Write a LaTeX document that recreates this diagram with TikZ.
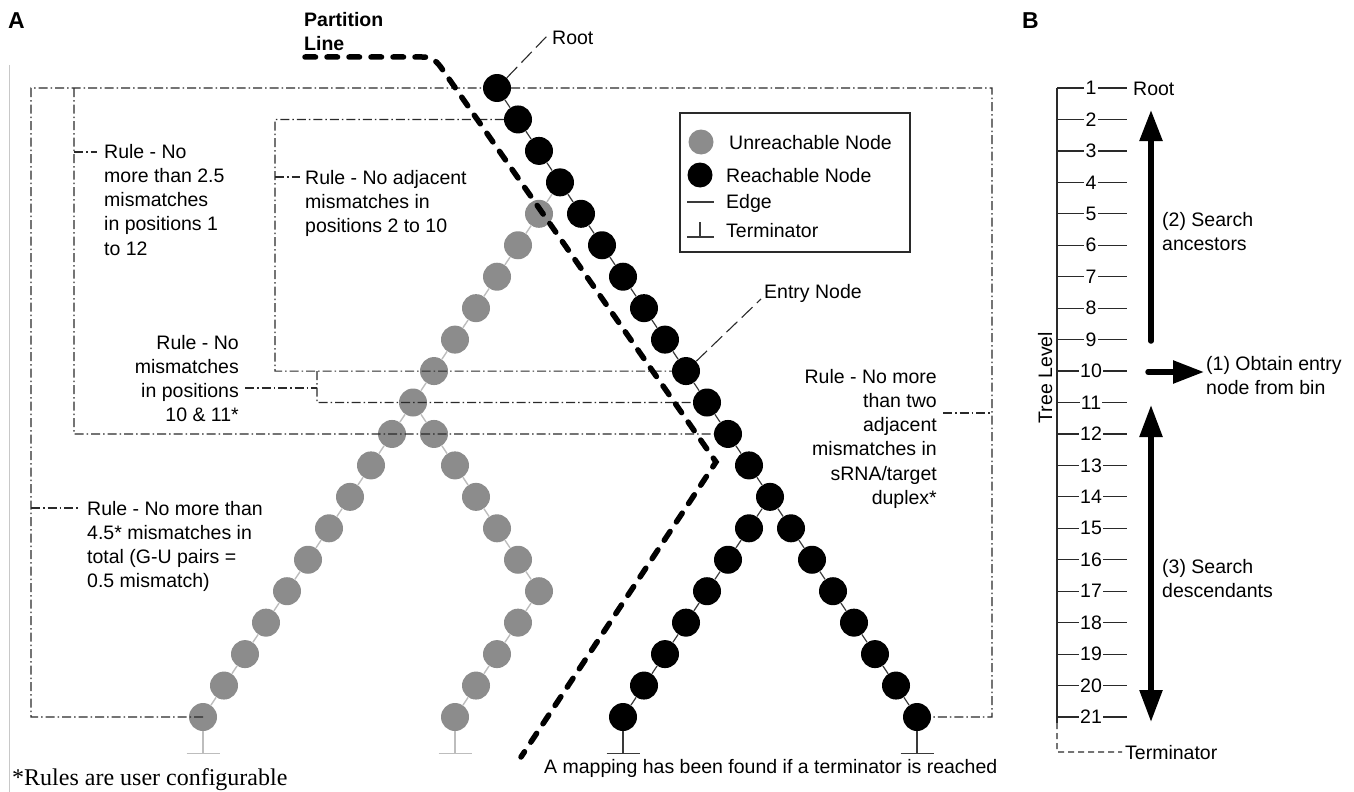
\documentclass[tikz,border=0pt]{standalone}
\usepackage{fontspec}
\setmainfont{Liberation Sans}
\newfontfamily\notefont{Liberation Serif}
\usetikzlibrary{arrows.meta}
\definecolor{graynode}{HTML}{8C8C8C}
\definecolor{grayedge}{HTML}{BDBDBD}
\definecolor{darkedge}{HTML}{3A3A3A}
\definecolor{rulecol}{HTML}{2A2A2A}
\definecolor{framegray}{HTML}{C8C8C8}
\begin{document}
\begin{tikzpicture}[x=1pt,y=-1pt,
  bnode/.style={circle,fill=black,minimum size=28pt,inner sep=0pt},
  gnode/.style={circle,fill=graynode,minimum size=28pt,inner sep=0pt},
  bedge/.style={draw=darkedge,line width=1.2pt},
  gedge/.style={draw=grayedge,line width=1.4pt},
  ruleline/.style={draw=rulecol,line width=1.1pt,dash pattern=on 9pt off 3pt on 1.5pt off 3pt},
  leaderline/.style={draw=rulecol,line width=1.1pt,dash pattern=on 15pt off 6pt},
  partline/.style={draw=black,line width=5.5pt,line cap=round,dash pattern=on 10.5pt off 11.5pt},
  lbl/.style={font=\fontsize{19.5}{24.2}\selectfont,inner sep=0pt,align=left},
  lblr/.style={lbl,align=right},
  boldlbl/.style={font=\fontsize{19.5}{24}\selectfont\bfseries,inner sep=0pt,align=left},
  panellbl/.style={font=\fontsize{23}{27}\selectfont\bfseries,inner sep=0pt,anchor=base west},
  bterm/.style={draw=darkedge,line width=1.4pt},
  gterm/.style={draw=grayedge,line width=1.4pt},
  tickline/.style={draw=rulecol,line width=1.2pt},
  num/.style={font=\fontsize{19.5}{24}\selectfont,fill=white,inner xsep=1.2pt,inner ysep=0pt},
  bigarrow/.style={line width=5.5pt,line cap=round,-{Triangle[length=31pt,width=22pt]}},
]
\useasboundingbox (0,0) rectangle (1354,792);

% thin frame line on the left
\draw[framegray,line width=1pt] (9,65) -- (9,792);

% ---------- gray (unreachable) nodes ----------
\foreach \L in {5,...,11} \node[gnode] (g\L) at ({539-(\L-5)*21},{88+(\L-1)*31.45}) {};
\foreach \L in {12,...,21} \node[gnode] (gl\L) at ({392-(\L-12)*21},{88+(\L-1)*31.45}) {};
\foreach \L in {12,...,17} \node[gnode] (gr\L) at ({434+(\L-12)*21},{88+(\L-1)*31.45}) {};
\foreach \L in {18,...,21} \node[gnode] (gr\L) at ({539-(\L-17)*21},{88+(\L-1)*31.45}) {};

% ---------- black (reachable) nodes ----------
\foreach \L in {1,...,14} \node[bnode] (b\L) at ({497+(\L-1)*21},{88+(\L-1)*31.45}) {};
\foreach \L in {15,...,21} \node[bnode] (bl\L) at ({749-(\L-15)*21},{88+(\L-1)*31.45}) {};
\foreach \L in {15,...,21} \node[bnode] (br\L) at ({791+(\L-15)*21},{88+(\L-1)*31.45}) {};

% ---------- edges ----------
\foreach \L in {1,...,13} {\pgfmathtruncatemacro\N{\L+1}\draw[bedge] (b\L) -- (b\N);}
\draw[bedge] (b14) -- (bl15);
\draw[bedge] (b14) -- (br15);
\foreach \L in {15,...,20} {\pgfmathtruncatemacro\N{\L+1}\draw[bedge] (bl\L) -- (bl\N); \draw[bedge] (br\L) -- (br\N);}
\draw[gedge] (b4) -- (g5);
\foreach \L in {5,...,10} {\pgfmathtruncatemacro\N{\L+1}\draw[gedge] (g\L) -- (g\N);}
\draw[gedge] (g11) -- (gl12);
\draw[gedge] (g11) -- (gr12);
\foreach \L in {12,...,20} {\pgfmathtruncatemacro\N{\L+1}\draw[gedge] (gl\L) -- (gl\N); \draw[gedge] (gr\L) -- (gr\N);}

% ---------- terminators ----------
\draw[gterm] (gl21.south) -- ++(0,22) ++(-16.5,0) -- ++(33,0);
\draw[gterm] (gr21.south) -- ++(0,22) ++(-16.5,0) -- ++(33,0);
\draw[bterm] (bl21.south) -- ++(0,22) ++(-16.5,0) -- ++(33,0);
\draw[bterm] (br21.south) -- ++(0,22) ++(-16.5,0) -- ++(33,0);

% ---------- rule brackets (dash-dot) ----------
\draw[ruleline] (gl21.center) -- (31,717) -- (31,88) -- (b1);
\draw[ruleline] (b1) -- (992,88) -- (992,717) -- (br21);
\draw[ruleline] (74,88) -- (74,433.95) -- (b12);
\draw[ruleline] (b2) -- (275,119.45) -- (275,371.05) -- (b10);
\draw[ruleline] (317,371.05) -- (317,402.5) -- (b11);
\draw[ruleline] (74,152) -- (97,152);
\draw[ruleline] (275,177) -- (300,177);
\draw[ruleline] (245,388) -- (317,388);
\draw[ruleline] (31,508) -- (80,508);
\draw[ruleline] (943,413) -- (992,413);

% ---------- rule texts ----------
\node[lbl,anchor=north west] (r1) at (104,144) {Rule - No\\more than 2.5\\mismatches\\in positions 1\\to 12};
\node[lbl,anchor=north west] (r2) at (305,170) {Rule - No adjacent\\mismatches in\\positions 2 to 10};
\node[lblr,anchor=north east] (r3) at (239,335) {Rule - No\\mismatches\\in positions\\10 \& 11*};
\node[lbl,anchor=north west] (r4) at (87,501) {Rule - No more than\\4.5* mismatches in\\total (G-U pairs =\\0.5 mismatch)};
\node[lblr,anchor=north east] (r5) at (937,369) {Rule - No more\\than two\\adjacent\\mismatches in\\sRNA/target\\duplex*};

% ---------- leaders ----------
\node[lbl,anchor=base west] (rootA) at (552,45) {Root};
\coordinate (rootlead) at (547,36);
\draw[leaderline] (b1) -- (rootlead);
\node[lbl,anchor=base west] (entry) at (764,298) {Entry Node};
\coordinate (entrylead) at (761,299);
\draw[leaderline] (b10) -- (entrylead);

% ---------- partition line ----------
\node[boldlbl,anchor=north west] (part) at (304,12) {Partition\\Line};
\draw[partline] (305,57) -- (422,57) .. controls (432,57) and (436,61) .. (440,66) -- (716,462) -- (521,757);

% ---------- legend ----------
\draw[draw=rulecol,line width=1.2pt] (680,113) rectangle (910,252);
\node[circle,fill=graynode,minimum size=25pt,inner sep=0pt] (lgU) at (701,142) {};
\node[circle,fill=black,minimum size=25pt,inner sep=0pt] (lgR) at (700,175) {};
\draw[draw=darkedge,line width=1.2pt] (687,202) -- (714,202);
\draw[bterm] (700,222) -- (700,237) (687,237) -- (714,237);
\node[lbl,anchor=base west] (lgUt) at (729,149) {Unreachable Node};
\node[lbl,anchor=base west] (lgRt) at (726,182) {Reachable Node};
\node[lbl,anchor=base west] (lgEt) at (726,208) {Edge};
\node[lbl,anchor=base west] (lgTt) at (726,237) {Terminator};

% ---------- captions ----------
\node[panellbl] (labA) at (8,29) {A};
\node[panellbl] (labB) at (1022,29) {B};
\node[anchor=base west,inner sep=0pt,font=\notefont\fontsize{24}{28}\selectfont] (note) at (12,785) {*Rules are user configurable};
\node[lbl,anchor=base west] (mapping) at (544,773) {A mapping has been found if a terminator is reached};

% ---------- panel B ----------
\draw[tickline] (1057,88) -- (1057,723);
\foreach \L in {1,...,21} {
  \pgfmathsetmacro\yy{88+(\L-1)*31.45}
  \draw[tickline] (1057,\yy) -- (1127,\yy);
  \node[num] (lv\L) at (1091,\yy) {\L};
}
\node[lbl,anchor=base west] (rootB) at (1133,95) {Root};
\node[lbl,anchor=base west] (termB) at (1125,759) {Terminator};
\draw[tickline,dash pattern=on 6pt off 4pt] (1057,723) -- (1057,752) -- ([xshift=-3pt]termB.west);
\node[lbl,rotate=90,anchor=base] (treelvl) at (1052,377.5) {Tree Level};

\coordinate (upS) at (1151,341);
\coordinate (upE) at (1151,110);
\draw[bigarrow] (upS) -- (upE);
\coordinate (rtS) at (1148,372);
\coordinate (rtE) at (1204,372);
\draw[bigarrow] (rtS) -- (rtE);
\coordinate (dnS) at (1151,405);
\coordinate (dnE) at (1151,722);
\draw[line width=5.5pt,{Triangle[length=32pt,width=22pt]}-{Triangle[length=32pt,width=22pt]}] (dnS) -- (dnE);

\node[lbl,anchor=north west] (s1) at (1206,356) {(1) Obtain entry\\node from bin};
\node[lbl,anchor=north west] (s2) at (1162,212) {(2) Search\\ancestors};
\node[lbl,anchor=north west] (s3) at (1162,559) {(3) Search\\descendants};
\end{tikzpicture}
\end{document}
